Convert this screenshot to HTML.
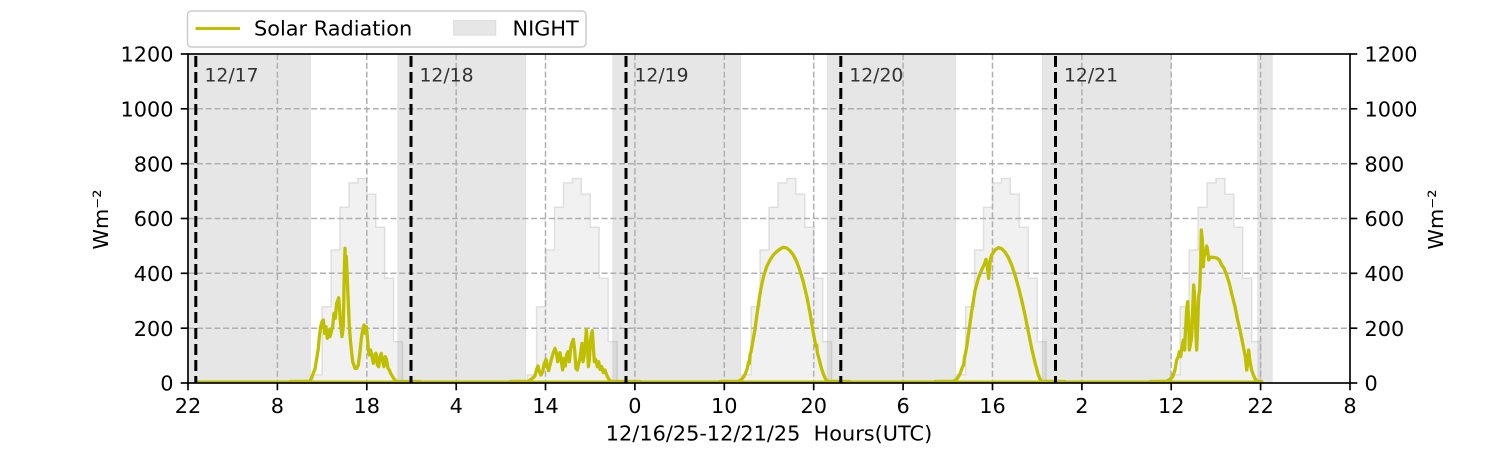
<!DOCTYPE html>
<html>
<head>
<meta charset="utf-8">
<style>
  html, body { margin:0; padding:0; background:#ffffff; }
  body { width:1500px; height:450px; overflow:hidden; }
  svg { display:block; }
  text { font-family: "DejaVu Sans", "Liberation Sans", sans-serif; }
</style>
</head>
<body>
<svg width="1500" height="450" viewBox="0 0 1500 450" xmlns="http://www.w3.org/2000/svg">
  <rect x="0" y="0" width="1500" height="450" fill="#ffffff"/>

  <defs>
    <path id="steps" d="M742,383 V374.8 H751.1 V306.8 H760.1 V250 H769 V207.3 H778 V182.9 H786.9 V178.5 H795.8 V194.1 H804.8 V227.3 H813.7 V278.3 H822.7 V341.6 H831.6 V383 Z"/>
    <clipPath id="plotclip"><rect x="188" y="54" width="1162" height="329"/></clipPath>
  </defs>
  <g clip-path="url(#plotclip)">
    <g fill="rgba(211,211,211,0.32)" stroke="rgba(200,200,200,0.5)" stroke-width="1.5">
      <use href="#steps" transform="translate(-429.04,0)"/>
      <use href="#steps" transform="translate(-214.52,0)"/>
      <use href="#steps"/>
      <use href="#steps" transform="translate(214.52,0)"/>
      <use href="#steps" transform="translate(429.04,0)"/>
    </g>

    <g fill="rgba(128,128,128,0.2)" stroke="rgba(128,128,128,0.12)" stroke-width="1">
      <rect x="188" y="54" width="122.5" height="329"/>
      <rect x="397.7" y="54" width="128.3" height="329"/>
      <rect x="612.7" y="54" width="128.1" height="329"/>
      <rect x="827.3" y="54" width="128.4" height="329"/>
      <rect x="1042" y="54" width="129" height="329"/>
      <rect x="1257.7" y="54" width="14.6" height="329"/>
    </g>

    <g stroke="#b0b0b0" stroke-width="1.5" stroke-dasharray="6,2.8">
      <line x1="188" y1="328.2" x2="1350" y2="328.2"/>
      <line x1="188" y1="273.3" x2="1350" y2="273.3"/>
      <line x1="188" y1="218.5" x2="1350" y2="218.5"/>
      <line x1="188" y1="163.7" x2="1350" y2="163.7"/>
      <line x1="188" y1="108.8" x2="1350" y2="108.8"/>
      <line x1="277.4" y1="54" x2="277.4" y2="383"/>
      <line x1="366.8" y1="54" x2="366.8" y2="383"/>
      <line x1="456.2" y1="54" x2="456.2" y2="383"/>
      <line x1="545.5" y1="54" x2="545.5" y2="383"/>
      <line x1="634.9" y1="54" x2="634.9" y2="383"/>
      <line x1="724.3" y1="54" x2="724.3" y2="383"/>
      <line x1="813.7" y1="54" x2="813.7" y2="383"/>
      <line x1="903.1" y1="54" x2="903.1" y2="383"/>
      <line x1="992.5" y1="54" x2="992.5" y2="383"/>
      <line x1="1081.9" y1="54" x2="1081.9" y2="383"/>
      <line x1="1171.2" y1="54" x2="1171.2" y2="383"/>
      <line x1="1260.6" y1="54" x2="1260.6" y2="383"/>
    </g>

    <g fill="none" stroke="#bfbf00" stroke-width="3.3" stroke-linejoin="round" stroke-linecap="round">
      <line x1="197" y1="381.7" x2="1261" y2="381.7" stroke-width="2.5"/>
      <g transform="translate(290,170) scale(0.333333)">
        <path vector-effect="non-scaling-stroke" d="M0,634.5 L60,634 75,597 85,535 88,500 92,470 96,455 100,450 104,490 108,470 112,505 116,480 120,500 124,485 128,470 132,430 136,445 140,400 144,390 146,383 149,420 152,465 156,500 160,470 163,300 165,235 167,300 169,260 172,330 175,400 178,470 182,520 188,575 195,595 200,595 205,585 210,545 214,505 218,480 222,465 226,490 229,470 232,500 235,540 238,555 242,540 246,560 250,580 254,555 258,550 262,585 266,590 270,560 274,550 278,575 282,590 286,560 290,570 294,595 298,600 302,610 308,620 314,630 320,634.5 L390,634.5"/>
      </g>
      <g transform="translate(510,170) scale(0.333333)">
        <path vector-effect="non-scaling-stroke" d="M0,634.5 L55,634 65,627 75,618 80,598 84,588 88,605 93,615 98,605 103,580 108,568 112,590 116,602 120,585 125,565 130,548 135,535 139,548 143,575 146,560 150,548 154,575 158,600 162,565 166,588 170,555 174,545 178,575 182,535 186,518 190,508 194,540 198,595 202,600 206,580 210,565 213,540 216,520 219,575 222,560 226,520 229,478 232,520 235,590 238,570 241,520 244,495 247,482 250,530 253,575 257,568 262,590 266,575 270,598 275,590 280,608 285,600 290,615 295,625 300,632 308,634.5 L390,634.5"/>
      </g>
      <g transform="translate(720,170) scale(0.333333)">
        <path vector-effect="non-scaling-stroke" d="M0,634.5 L55,634 62,630 70,622 76,612 82,595 86,575 88,580 90,555 93,545 96,530 100,505 105,478 110,440 115,405 120,372 125,345 130,322 140,290 150,270 160,255 170,245 180,237 190,232 200,234 210,242 220,255 230,275 240,302 250,336 260,378 270,428 278,478 284,510 288,530 290,525 292,548 296,562 300,578 305,597 310,612 316,626 322,634 L390,634.5"/>
      </g>
      <g transform="translate(935,170) scale(0.333333)">
        <path vector-effect="non-scaling-stroke" d="M0,634.5 L55,634 65,628 75,612 82,592 86,585 88,565 92,548 96,525 100,495 105,460 110,425 115,393 120,362 130,325 140,300 148,283 153,268 156,280 159,310 161,325 163,300 166,268 170,255 175,248 180,240 190,233 200,236 210,246 220,262 230,285 240,315 250,350 260,390 270,435 280,485 290,535 300,578 310,615 318,634 L390,634.5"/>
      </g>
      <g transform="translate(1150,170) scale(0.333333)">
        <path vector-effect="non-scaling-stroke" d="M0,634.5 L50,634 60,628 68,620 75,600 80,570 85,560 88,545 92,560 96,530 100,510 104,540 106,490 110,420 113,395 116,450 118,540 122,520 125,500 128,420 131,345 134,380 137,470 140,540 143,470 146,380 149,360 152,280 154,180 157,210 160,290 162,260 166,250 170,228 173,240 176,270 180,262 190,262 200,264 208,270 215,285 222,295 230,315 238,340 246,375 255,410 263,450 270,480 276,510 282,540 286,560 290,600 293,580 296,540 300,575 305,600 310,615 316,628 322,634.5 L335,634.5"/>
      </g>
    </g>

    <g stroke="#000000" stroke-width="3" stroke-dasharray="11,5">
      <line x1="195.8" y1="56" x2="195.8" y2="383"/>
      <line x1="411" y1="56" x2="411" y2="383"/>
      <line x1="626" y1="56" x2="626" y2="383"/>
      <line x1="840.8" y1="56" x2="840.8" y2="383"/>
      <line x1="1055.5" y1="56" x2="1055.5" y2="383"/>
    </g>
  </g>

  <g font-size="18.75" fill="#333333">
    <text x="204.5" y="81.5">12/17</text>
    <text x="419.5" y="81.5">12/18</text>
    <text x="634.5" y="81.5">12/19</text>
    <text x="849.3" y="81.5">12/20</text>
    <text x="1064" y="81.5">12/21</text>
  </g>

  <rect x="188" y="54" width="1162" height="329" fill="none" stroke="#000000" stroke-width="1.67"/>

  <g stroke="#000000" stroke-width="1.67">
    <line x1="180.7" y1="383" x2="188" y2="383"/>
    <line x1="180.7" y1="328.2" x2="188" y2="328.2"/>
    <line x1="180.7" y1="273.3" x2="188" y2="273.3"/>
    <line x1="180.7" y1="218.5" x2="188" y2="218.5"/>
    <line x1="180.7" y1="163.7" x2="188" y2="163.7"/>
    <line x1="180.7" y1="108.8" x2="188" y2="108.8"/>
    <line x1="180.7" y1="54" x2="188" y2="54"/>
    <line x1="1350" y1="383" x2="1357.3" y2="383"/>
    <line x1="1350" y1="328.2" x2="1357.3" y2="328.2"/>
    <line x1="1350" y1="273.3" x2="1357.3" y2="273.3"/>
    <line x1="1350" y1="218.5" x2="1357.3" y2="218.5"/>
    <line x1="1350" y1="163.7" x2="1357.3" y2="163.7"/>
    <line x1="1350" y1="108.8" x2="1357.3" y2="108.8"/>
    <line x1="1350" y1="54" x2="1357.3" y2="54"/>
    <line x1="188" y1="383" x2="188" y2="390.3"/>
    <line x1="277.4" y1="383" x2="277.4" y2="390.3"/>
    <line x1="366.8" y1="383" x2="366.8" y2="390.3"/>
    <line x1="456.2" y1="383" x2="456.2" y2="390.3"/>
    <line x1="545.5" y1="383" x2="545.5" y2="390.3"/>
    <line x1="634.9" y1="383" x2="634.9" y2="390.3"/>
    <line x1="724.3" y1="383" x2="724.3" y2="390.3"/>
    <line x1="813.7" y1="383" x2="813.7" y2="390.3"/>
    <line x1="903.1" y1="383" x2="903.1" y2="390.3"/>
    <line x1="992.5" y1="383" x2="992.5" y2="390.3"/>
    <line x1="1081.9" y1="383" x2="1081.9" y2="390.3"/>
    <line x1="1171.2" y1="383" x2="1171.2" y2="390.3"/>
    <line x1="1260.6" y1="383" x2="1260.6" y2="390.3"/>
    <line x1="1350" y1="383" x2="1350" y2="390.3"/>
  </g>

  <g font-size="20.83" fill="#000000" text-anchor="end">
    <text x="173.5" y="390.7">0</text>
    <text x="173.5" y="335.9">200</text>
    <text x="173.5" y="281">400</text>
    <text x="173.5" y="226.2">600</text>
    <text x="173.5" y="171.4">800</text>
    <text x="173.5" y="116.5">1000</text>
    <text x="173.5" y="61.7">1200</text>
  </g>
  <g font-size="20.83" fill="#000000" text-anchor="start">
    <text x="1364.5" y="390.7">0</text>
    <text x="1364.5" y="335.9">200</text>
    <text x="1364.5" y="281">400</text>
    <text x="1364.5" y="226.2">600</text>
    <text x="1364.5" y="171.4">800</text>
    <text x="1364.5" y="116.5">1000</text>
    <text x="1364.5" y="61.7">1200</text>
  </g>
  <g font-size="20.83" fill="#000000" text-anchor="middle">
    <text x="188" y="413">22</text>
    <text x="277.4" y="413">8</text>
    <text x="366.8" y="413">18</text>
    <text x="456.2" y="413">4</text>
    <text x="545.5" y="413">14</text>
    <text x="634.9" y="413">0</text>
    <text x="724.3" y="413">10</text>
    <text x="813.7" y="413">20</text>
    <text x="903.1" y="413">6</text>
    <text x="992.5" y="413">16</text>
    <text x="1081.9" y="413">2</text>
    <text x="1171.2" y="413">12</text>
    <text x="1260.6" y="413">22</text>
    <text x="1350" y="413">8</text>
  </g>

  <text x="769" y="440.5" font-size="20.83" text-anchor="middle" style="white-space:pre" xml:space="preserve">12/16/25-12/21/25  Hours(UTC)</text>
  <text transform="translate(108,219.5) rotate(-90)" font-size="20.83" text-anchor="middle">Wm⁻²</text>
  <text transform="translate(1443,219.5) rotate(-90)" font-size="20.83" text-anchor="middle">Wm⁻²</text>

  <rect x="187.5" y="11" width="398.5" height="36" rx="4" ry="4" fill="#ffffff" fill-opacity="0.8" stroke="#cccccc" stroke-width="1.5"/>
  <line x1="195.5" y1="28.5" x2="240" y2="28.5" stroke="#bfbf00" stroke-width="3"/>
  <text x="254" y="35.7" font-size="20.83" fill="#000000">Solar Radiation</text>
  <rect x="453.5" y="20.3" width="42.5" height="15" fill="rgba(128,128,128,0.2)" stroke="rgba(128,128,128,0.15)" stroke-width="1"/>
  <text x="512.5" y="35.7" font-size="20.83" fill="#000000">NIGHT</text>
</svg>
</body>
</html>
